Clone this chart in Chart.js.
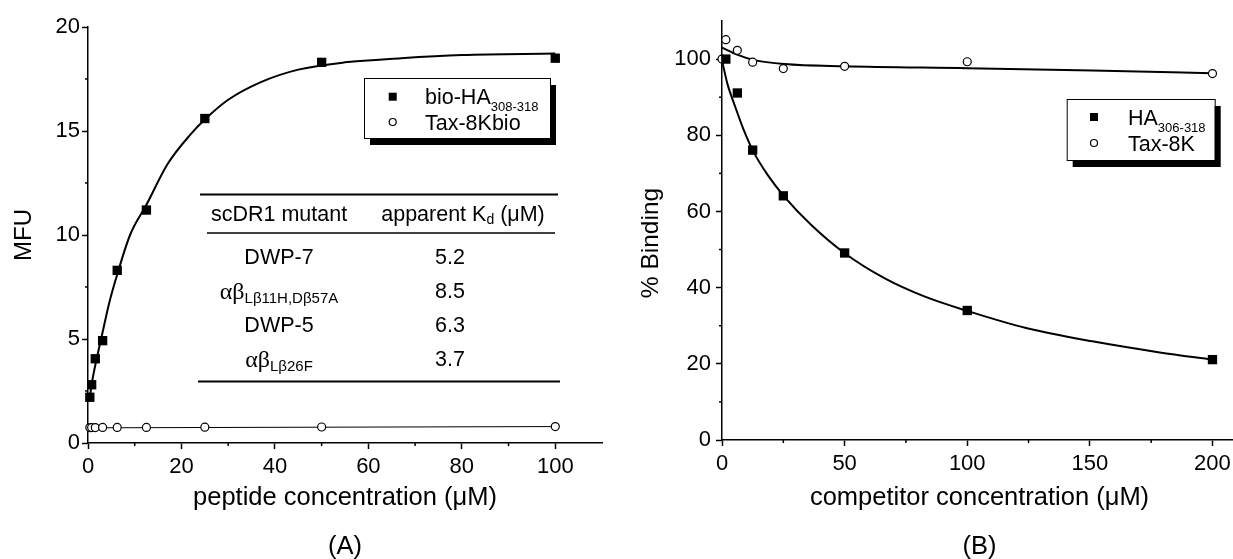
<!DOCTYPE html>
<html>
<head>
<meta charset="utf-8">
<script src="https://cdn.jsdelivr.net/npm/chart.js@4/dist/chart.umd.min.js"></script>
<style>
  html, body { margin: 0; padding: 0; background: #fff; }
  #page { position: relative; width: 1233px; height: 559px; overflow: hidden; background: #fff; }
  #wrapA { position: absolute; left: 0; top: 0; width: 616px; height: 559px; }
  #wrapB { position: absolute; left: 616px; top: 0; width: 640px; height: 559px; }
  canvas { display: block; }
</style>
</head>
<body>
<div id="page">
  <div id="wrapA"><canvas id="chartA" width="616" height="559"></canvas></div>
  <div id="wrapB"><canvas id="chartB" width="640" height="559"></canvas></div>
</div>
<script>
// ---------- Panel A: direct binding of biotinylated peptides ----------
const peptideConc   = [0.39, 0.78, 1.56, 3.13, 6.25, 12.5, 25, 50, 100];
const bioHA         = [2.2, 2.8, 4.05, 4.92, 8.3, 11.2, 15.6, 18.3, 18.5];
const tax8Kbio      = [0.74, 0.74, 0.74, 0.75, 0.75, 0.75, 0.76, 0.77, 0.79];
// fitted saturation curve for bio-HA
const fitConcA      = [0.39, 1, 2, 3, 4.5, 6.25, 9, 12.5, 17, 22, 25, 30, 37, 45, 55, 67, 80, 100];
const fitBioHA      = [2.2, 3.1, 4.2, 5.2, 6.7, 8.1, 10.0, 11.45, 13.4, 14.85, 15.55, 16.5, 17.35, 17.95, 18.3, 18.5, 18.65, 18.72];
// straight line through the Tax-8Kbio points
const fitConcTaxA   = [0.39, 100];
const fitTax8Kbio   = [0.73, 0.79];
const legendTextA   = ['bio-HA', 'Tax-8Kbio'];
const legendSubA    = ['308-318', ''];

// inset table of apparent Kd values
const mutantNames   = ['DWP-7', 'αβ', 'DWP-5', 'αβ'];
const mutantSubs    = ['', 'Lβ11H,Dβ57A', '', 'Lβ26F'];
const apparentKd    = ['5.2', '8.5', '6.3', '3.7'];

// ---------- Panel B: competition by unlabelled peptides ----------
const competitorConcHA  = [1.56, 6.25, 12.5, 25, 50, 100, 200];
const bindingHA         = [100, 91.1, 76.1, 64.1, 49.1, 34.0, 21.1];
const competitorConcTax = [0, 1.56, 6.25, 12.5, 25, 50, 100, 200];
const bindingTax        = [100, 105.1, 102.3, 99.2, 97.5, 98.1, 99.3, 96.2];
const fitConcHA   = [0, 2.3, 5.1, 9.1, 12.8, 18.6, 25.4, 36.3, 49.9, 66.2, 82.5, 100, 124, 151, 178.5, 200];
const fitHA       = [99.6, 93.3, 88.0, 81.0, 75.7, 69.6, 63.9, 56.5, 49.1, 42.5, 37.7, 33.9, 29.4, 25.9, 23.0, 21.1];
const fitConcTax  = [0, 6.4, 12.8, 25.4, 50, 100, 151, 200];
const fitTax      = [103.0, 101.1, 99.8, 98.7, 98.1, 97.6, 97.0, 96.3];
const legendTextB = ['HA', 'Tax-8K'];
const legendSubB  = ['306-318', ''];

const SANS = '"Liberation Sans", Arial, Helvetica, sans-serif';
const SERIF = '"Liberation Serif", "Times New Roman", serif';
Chart.defaults.font.family = SANS;
Chart.defaults.color = '#000';

const pts = (xs, ys) => xs.map((x, i) => ({ x, y: ys[i] }));

// short unlabelled ticks between the labelled ones
const minorTicks = {
  id: 'minorTicks',
  afterDraw(chart, args, opts) {
    const ctx = chart.ctx;
    ctx.save();
    ctx.strokeStyle = '#000';
    ctx.lineWidth = 1.5;
    Object.entries(opts.steps || {}).forEach(([id, step]) => {
      const s = chart.scales[id];
      const majors = s.ticks.map(t => t.value);
      const n = Math.round((s.max - s.min) / step);
      for (let i = 0; i < n; i++) {
        const v = s.min + i * step;
        if (majors.some(m => Math.abs(m - v) < 1e-6)) continue;
        const p = s.getPixelForValue(v);
        ctx.beginPath();
        if (s.isHorizontal()) { ctx.moveTo(p, s.top); ctx.lineTo(p, s.top + opts.length); }
        else { ctx.moveTo(s.right, p); ctx.lineTo(s.right - opts.length, p); }
        ctx.stroke();
      }
    });
    ctx.restore();
  }
};

// rotated caption beside the value axis
const sideTitle = {
  id: 'sideTitle',
  afterDraw(chart, args, o) {
    if (!o.text) return;
    const ctx = chart.ctx;
    ctx.save();
    ctx.translate(o.x, o.y);
    ctx.rotate(-Math.PI / 2);
    ctx.fillStyle = '#000';
    ctx.font = o.size + 'px ' + SANS;
    ctx.textAlign = 'center';
    ctx.textBaseline = 'middle';
    ctx.fillText(o.text, 0, 0);
    ctx.restore();
  }
};

// framed legend with drop shadow and subscripted labels
const boxLegend = {
  id: 'boxLegend',
  afterDraw(chart, args, o) {
    const ctx = chart.ctx;
    ctx.save();
    ctx.fillStyle = '#000';
    ctx.fillRect(o.x + o.dx, o.y + o.dy, o.w, o.h);
    ctx.fillStyle = '#fff';
    ctx.fillRect(o.x, o.y, o.w, o.h);
    ctx.strokeStyle = '#000';
    ctx.lineWidth = 1;
    ctx.strokeRect(o.x + 0.5, o.y + 0.5, o.w, o.h);
    o.texts.forEach((txt, i) => {
      const ds = chart.data.datasets[i];
      const cy = o.y + o.row0 + i * o.rowGap;
      const mx = o.x + o.markerX;
      if (ds.pointStyle === 'rect') {
        ctx.fillStyle = '#000';
        ctx.fillRect(mx - 4, cy - 4, 8, 8);
      } else {
        ctx.beginPath();
        ctx.arc(mx, cy, 3.5, 0, Math.PI * 2);
        ctx.fillStyle = '#fff';
        ctx.fill();
        ctx.lineWidth = 1.2;
        ctx.strokeStyle = '#000';
        ctx.stroke();
      }
      ctx.fillStyle = '#000';
      ctx.textAlign = 'left';
      ctx.textBaseline = 'alphabetic';
      ctx.font = '21.5px ' + SANS;
      const tx = o.x + o.textX, base = cy + 7.5;
      ctx.fillText(txt, tx, base);
      if (o.subs[i]) {
        const w = ctx.measureText(txt).width;
        ctx.font = '13px ' + SANS;
        ctx.fillText(o.subs[i], tx + w, base + 7);
      }
    });
    ctx.restore();
  }
};

// inset table: mutant vs apparent Kd
const kdTable = {
  id: 'kdTable',
  afterDraw(chart, args, o) {
    if (!o.rows) return;
    const ctx = chart.ctx;
    ctx.save();
    ctx.strokeStyle = '#000';
    o.rules.forEach(r => {
      ctx.lineWidth = r.w;
      ctx.beginPath(); ctx.moveTo(r.x0, r.y); ctx.lineTo(r.x1, r.y); ctx.stroke();
    });
    ctx.fillStyle = '#000';
    ctx.textBaseline = 'middle';
    ctx.textAlign = 'center';
    ctx.font = '21.5px ' + SANS;
    ctx.fillText('scDR1 mutant', o.col1, o.headerY);
    // header "apparent Kd (μM)" with subscript d
    const a = 'apparent K', b = ' (μM)';
    ctx.font = '21.5px ' + SANS; const wa = ctx.measureText(a).width, wb = ctx.measureText(b).width;
    ctx.font = '14px ' + SANS; const wd = ctx.measureText('d').width;
    let hx = o.col2Header - (wa + wd + wb) / 2;
    ctx.textAlign = 'left';
    ctx.font = '21.5px ' + SANS; ctx.fillText(a, hx, o.headerY); hx += wa;
    ctx.font = '14px ' + SANS; ctx.fillText('d', hx, o.headerY + 5); hx += wd;
    ctx.font = '21.5px ' + SANS; ctx.fillText(b, hx, o.headerY);
    o.rows.forEach((name, i) => {
      const y = o.rowY[i];
      if (o.subs[i]) {
        ctx.textBaseline = 'alphabetic';
        ctx.font = '24px ' + SERIF; const wn = ctx.measureText(name).width;
        ctx.font = '15px ' + SANS; const ws = ctx.measureText(o.subs[i]).width;
        let x = o.col1 - (wn + ws) / 2;
        ctx.textAlign = 'left';
        ctx.font = '24px ' + SERIF; ctx.fillText(name, x, y + 7);
        ctx.font = '15px ' + SANS; ctx.fillText(o.subs[i], x + wn, y + 11);
      } else {
        ctx.textBaseline = 'middle';
        ctx.textAlign = 'center';
        ctx.font = '21.5px ' + SANS;
        ctx.fillText(name, o.col1, y);
      }
      ctx.textBaseline = 'middle';
      ctx.textAlign = 'center';
      ctx.font = '21.5px ' + SANS;
      ctx.fillText(o.values[i], o.col2, y);
    });
    ctx.restore();
  }
};

function axis(min, max, step, tickPad, extra) {
  return Object.assign({
    type: 'linear', min, max,
    ticks: { stepSize: step, includeBounds: false, padding: tickPad, font: { size: 22 }, color: '#000', maxRotation: 0, autoSkip: false },
    grid: { drawOnChartArea: false, drawTicks: true, tickLength: 6, tickWidth: 1.5, tickColor: '#000' },
    border: { display: true, color: '#000', width: 1.5 }
  }, extra);
}

function squares(label, data) {
  return { label, data, showLine: false, pointStyle: 'rect', pointRadius: 6.6, pointBackgroundColor: '#000',
           pointBorderColor: '#000', pointBorderWidth: 0, clip: false, order: 0 };
}
function circles(label, data) {
  return { label, data, showLine: false, pointStyle: 'circle', pointRadius: 4, pointBackgroundColor: '#fff',
           pointBorderColor: '#000', pointBorderWidth: 1.2, clip: false, order: 0 };
}
function curve(label, data, width) {
  return { label, data, showLine: true, pointRadius: 0, borderColor: '#000', borderWidth: width,
           fill: false, cubicInterpolationMode: 'monotone', clip: false, order: 1 };
}

new Chart(document.getElementById('chartA'), {
  type: 'scatter',
  data: {
    datasets: [
      squares('bio-HA308-318', pts(peptideConc, bioHA)),
      circles('Tax-8Kbio', pts(peptideConc, tax8Kbio)),
      curve('bio-HA fit', pts(fitConcA, fitBioHA), 2),
      curve('Tax-8Kbio fit', pts(fitConcTaxA, fitTax8Kbio), 1)
    ]
  },
  options: {
    responsive: false, animation: false, events: [],
    layout: { padding: { left: 0, right: 14, top: 27, bottom: 0 } },
    plugins: {
      legend: { display: false }, tooltip: { enabled: false },
      minorTicks: { steps: { x: 10, y: 2.5 }, length: 3 },
      sideTitle: { text: 'MFU', x: 24, y: 235, size: 24 },
      boxLegend: { x: 364, y: 78, w: 186, h: 60, dx: 6, dy: 7, markerX: 28.7, textX: 61, row0: 18.7, rowGap: 25.3,
                   texts: legendTextA, subs: legendSubA },
      kdTable: {
        rules: [ { y: 194.5, x0: 200, x1: 558, w: 2 }, { y: 233, x0: 207, x1: 555, w: 1.3 }, { y: 381.5, x0: 198, x1: 560, w: 2 } ],
        headerY: 215, col1: 279, col2Header: 463, col2: 450,
        rowY: [258, 292, 326, 360],
        rows: mutantNames, subs: mutantSubs, values: apparentKd
      }
    },
    scales: {
      x: axis(0, 110, 20, 5, {
        title: { display: true, text: ['peptide concentration (μM)', '', '(A)'], font: { size: 25.5, lineHeight: 0.95 }, color: '#000', padding: { top: 0, bottom: 0 } },
        afterFit(s) { s.height = 116; }
      }),
      y: axis(0, 20, 5, 2, {
        afterFit(s) { s.width = 88; }
      })
    }
  },
  plugins: [minorTicks, sideTitle, boxLegend, kdTable]
});

new Chart(document.getElementById('chartB'), {
  type: 'scatter',
  data: {
    datasets: [
      squares('HA306-318', pts(competitorConcHA, bindingHA)),
      circles('Tax-8K', pts(competitorConcTax, bindingTax)),
      curve('HA fit', pts(fitConcHA, fitHA), 2),
      curve('Tax-8K fit', pts(fitConcTax, fitTax), 2)
    ]
  },
  options: {
    responsive: false, animation: false, events: [],
    layout: { padding: { left: 0, right: 19, top: 21, bottom: 0 } },
    plugins: {
      legend: { display: false }, tooltip: { enabled: false },
      minorTicks: { steps: { x: 25, y: 10 }, length: 3 },
      sideTitle: { text: '% Binding', x: 35, y: 243, size: 24.5 },
      boxLegend: { x: 450.7, y: 99, w: 148, h: 61, dx: 6, dy: 7, markerX: 27.3, textX: 61.3, row0: 18, rowGap: 26,
                   texts: legendTextB, subs: legendSubB },
      kdTable: {}
    },
    scales: {
      x: axis(0, 210, 50, 5, {
        title: { display: true, text: ['competitor concentration (μM)', '', '(B)'], font: { size: 25.5, lineHeight: 0.95 }, color: '#000', padding: { top: 0, bottom: 0 } },
        afterFit(s) { s.height = 119; }
      }),
      y: axis(0, 110, 20, 5, {
        afterFit(s) { s.width = 106; }
      })
    }
  },
  plugins: [minorTicks, sideTitle, boxLegend, kdTable]
});
</script>
</body>
</html>
